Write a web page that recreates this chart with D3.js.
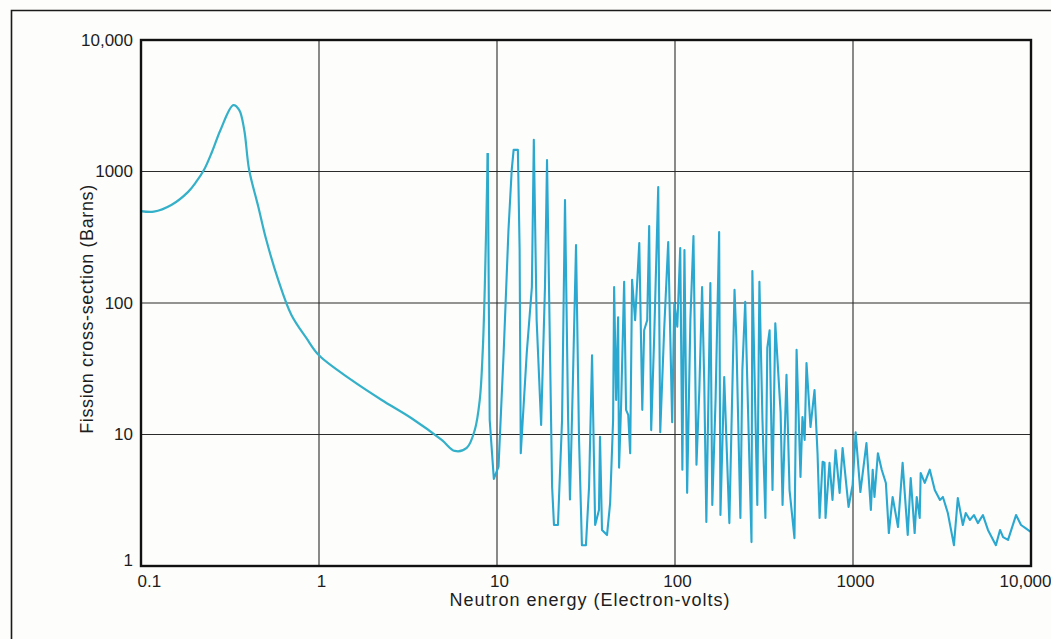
<!DOCTYPE html>
<html>
<head>
<meta charset="utf-8">
<script src="https://cdn.jsdelivr.net/npm/d3@7"></script>
<style>
	html, body { margin: 0; padding: 0; background: #fdfdfb; }
	svg { display: block; font-family: "Liberation Sans", Arial, Helvetica, sans-serif; }
</style>
</head>
<body>
<svg id="chart"></svg>
<script>

// axis ticks
const xTicks = [0.1, 1, 10, 100, 1000, 10000]
const xTickLabels = ['0.1', '1', '10', '100', '1000', '10,000']
const yTicks = [1, 10, 100, 1000, 10000]
const yTickLabels = ['1', '10', '100', '1000', '10,000']

const xTitle = 'Neutron energy (Electron-volts)'
const yTitle = 'Fission cross-section (Barns)'

// smooth part of the curve (eV, barns)
const lowEnergy = [0.1, 0.118, 0.148, 0.184, 0.205, 0.226, 0.25, 0.28, 0.33, 0.356, 0.38, 0.405, 0.456, 0.506,
	0.59, 0.70, 0.85, 1.0, 1.52, 2.25, 3.31, 4.89, 5.79, 6.76, 7.5, 8.0, 8.32, 8.54, 8.87]
const lowSigma = [500, 495, 556, 700, 840, 1030, 1400, 2080, 3200, 2940, 2080, 1030, 540, 301,
	150, 81, 54, 40, 26, 18.3, 13.3, 9.1, 7.5, 7.9, 10.8, 18.3, 44, 132, 1380]

// resonance region (eV, barns)
const resEnergy = [8.87, 9.1, 9.6, 10.2, 10.9, 11.6, 12.1, 12.4, 13.1, 13.4, 13.6, 14.7, 15.7, 16.1,
	16.7, 17.7, 18.6, 19.1, 20.4, 20.9, 22.0, 23.2, 24.1, 25.1, 25.7, 26.7, 27.8, 28.9, 30.0, 31.6,
	32.9, 34.2, 35.6, 37.4, 37.9, 38.9, 41.5,
	43.2, 44.9, 45.5, 46.7, 47.9, 48.5, 49.8, 51.8, 53.1, 54.6, 56.0, 57.4, 59.7, 63.0, 65.5, 67.1,
	69.8, 71.6, 73.5, 76.4, 80.5, 82.6, 86.9, 91.6, 96.4, 99.1, 103, 107, 110, 113, 117, 122, 127,
	132, 137, 142, 146, 150, 158, 162, 169, 177, 180, 189, 202, 216, 221, 233, 239, 248, 269, 272,
	290, 298, 310, 322, 330, 340, 353, 366, 392, 402, 423, 440, 469, 482, 507, 520, 535, 548, 577,
	608, 632, 649, 675, 692, 701, 738, 767, 798, 841, 874, 944, 995, 1035, 1100, 1190,
	1260, 1290, 1320, 1380, 1450, 1530, 1590, 1670, 1790, 1900, 2030, 2110, 2220, 2280, 2370, 2400,
	2530, 2700, 2880, 3080, 3200, 3410, 3690, 3880, 4140, 4300, 4540, 4780, 5030, 5370, 5730, 6350,
	6700, 6970, 7430, 8240, 8790, 9270, 10000]
const resSigma = [1380, 12.9, 4.6, 5.7, 42, 359, 1030, 1460, 1460, 253, 7.2, 42, 132, 1740,
	74, 11.8, 132, 1220, 4.0, 2.05, 2.05, 12.9, 607, 12.9, 3.2, 26, 276, 9.1, 1.44, 1.44,
	4.0, 40, 2.05, 2.67, 9.6, 1.88, 1.72,
	3.0, 12.9, 132, 18.3, 78, 5.6, 16.8, 145, 15.4, 14.1, 7.2, 150, 74, 286, 15.4, 62,
	74, 385, 10.8, 55, 763, 10.4, 62, 291, 12.4, 100, 66, 262, 5.4, 253, 3.6, 74, 323,
	5.9, 21.8, 132, 25, 2.16, 142, 2.91, 18.3, 347, 2.44, 27.4, 2.12, 126, 55, 2.32, 31, 102, 1.52, 175,
	2.91, 145, 12.9, 2.32, 45.5, 62, 3.78, 70, 14.8, 2.91, 28.4, 3.78, 1.63, 44, 4.75, 13.6, 9.1, 35, 11.4,
	21.8, 7.2, 2.32, 6.2, 6.1, 2.32, 6.1, 3.18, 7.6, 3.6, 7.9, 2.81, 4.13, 10.4, 3.65, 8.6,
	2.67, 5.4, 3.35, 7.2, 5.4, 4.28, 1.78, 3.35, 1.98, 6.1, 1.72, 4.67, 1.78, 3.35, 2.32, 5.1,
	4.28, 5.4, 3.78, 3.18, 3.35, 2.53, 1.44, 3.29, 2.05, 2.53, 2.24, 2.44, 2.12, 2.44, 1.88, 1.44,
	1.88, 1.66, 1.58, 2.44, 2.05, 1.95, 1.81]

const draw = () => {

	let width = 1051, height = 639
	let mLeft = 141, mRight = 1031, mTop = 40, mBottom = 566

	let svg = d3.select('#chart').attr('width', width).attr('height', height)

	let scX = d3.scaleLog().domain([0.1, 10000]).range([mLeft, mRight])
	let scY = d3.scaleLog().domain([1, 10000]).range([mBottom, mTop])

	// outer page frame (top and left edge)
	svg.append('path')
		.attr('d', `M11.5,${height} V10.5 H${width}`)
		.attr('fill', 'none')
		.attr('stroke', '#1a1a1a')
		.attr('stroke-width', 1.6)

	// grid
	let grid = svg.append('g').attr('stroke', '#2b2b2b').attr('stroke-width', 1.1)
	grid.selectAll('line.v')
		.data(xTicks.slice(1, -1)).enter().append('line')
		.attr('x1', d => scX(d)).attr('x2', d => scX(d))
		.attr('y1', mTop).attr('y2', mBottom)
	grid.selectAll('line.h')
		.data(yTicks.slice(1, -1)).enter().append('line')
		.attr('y1', d => scY(d)).attr('y2', d => scY(d))
		.attr('x1', mLeft).attr('x2', mRight)

	// curve
	let lowPts = lowEnergy.map((e, i) => [e, lowSigma[i]])
	let resPts = resEnergy.map((e, i) => [e, resSigma[i]])

	let smooth = d3.line().x(d => scX(d[0])).y(d => scY(d[1])).curve(d3.curveCatmullRom.alpha(0.5))
	let jagged = d3.line().x(d => scX(d[0])).y(d => scY(d[1]))

	svg.append('path')
		.attr('d', smooth(lowPts))
		.attr('fill', 'none').attr('stroke', '#34b0c9').attr('stroke-width', 2.2)
		.attr('stroke-linejoin', 'round')

	svg.append('path')
		.attr('d', jagged(resPts))
		.attr('fill', 'none').attr('stroke', '#2aa8cf').attr('stroke-width', 2.1)
		.attr('stroke-linejoin', 'round')

	// plot frame
	svg.append('rect')
		.attr('x', mLeft).attr('y', mTop)
		.attr('width', mRight - mLeft).attr('height', mBottom - mTop)
		.attr('fill', 'none').attr('stroke', '#111').attr('stroke-width', 2.4)

	// tick labels
	let xAxis = d3.axisBottom(scX).tickValues(xTicks).tickSize(0).tickPadding(9)
		.tickFormat((d, i) => xTickLabels[i])
	let gx = svg.append('g').attr('transform', `translate(0, ${mBottom})`).call(xAxis)
	gx.select('.domain').remove()
	gx.selectAll('text').attr('font-size', 17).attr('fill', '#1e1e1e')
		.attr('text-anchor', (d, i) => i == 0 ? 'start' : i == xTicks.length - 1 ? 'end' : 'middle')
		.attr('dx', (d, i) => i == 0 ? -4 : i == xTicks.length - 1 ? 20 : 2)
	gx.attr('font-family', null)

	let yAxis = d3.axisLeft(scY).tickValues(yTicks).tickSize(0).tickPadding(8)
		.tickFormat((d, i) => yTickLabels[i])
	let gy = svg.append('g').attr('transform', `translate(${mLeft}, 0)`).call(yAxis)
	gy.select('.domain').remove()
	gy.selectAll('text').attr('font-size', 17).attr('fill', '#1e1e1e')
		.attr('dy', (d, i) => i == 0 ? '-0.05em' : '0.32em')
	gy.attr('font-family', null)

	// axis titles
	svg.append('text')
		.attr('x', 590).attr('y', 606)
		.attr('text-anchor', 'middle').attr('font-size', 18).attr('fill', '#1e1e1e')
		.attr('letter-spacing', 1)
		.text(xTitle)

	svg.append('text')
		.attr('transform', 'translate(93, 309) rotate(-90)')
		.attr('text-anchor', 'middle').attr('font-size', 18).attr('fill', '#1e1e1e')
		.attr('letter-spacing', 0.6)
		.text(yTitle)
}

draw()

</script>
</body>
</html>
